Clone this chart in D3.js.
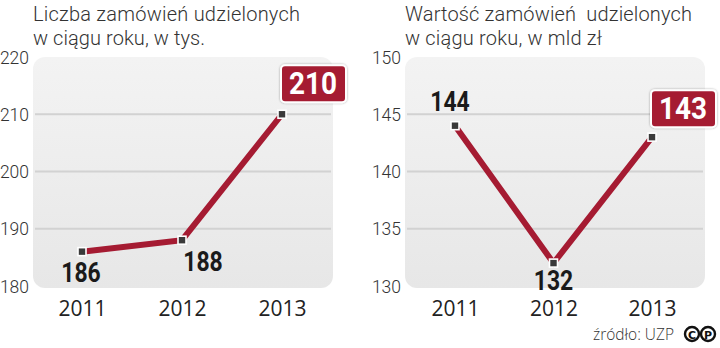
<!DOCTYPE html>
<html><head><meta charset="utf-8">
<script src="https://cdn.jsdelivr.net/npm/d3@7/dist/d3.min.js"></script>
<style>
html,body{margin:0;padding:0;background:#fff;}
svg{display:block;}
</style></head>
<body>
<svg id="c" width="720" height="348"></svg>
<script>
const years = ["2011","2012","2013"];
const ordersCount = [186, 188, 210];
const ordersValue = [144, 132, 143];
const ticksLeft = [180, 190, 200, 210, 220];
const ticksRight = [130, 135, 140, 145, 150];
const titleLeft = ["Liczba zamówień udzielonych", "w ciągu roku, w tys."];
const titleRight = ["Wartość zamówień  udzielonych", "w ciągu roku, w mld zł"];
const sourceText = "źródło: UZP";

const svg = d3.select("#c");
const defs = svg.append("defs");
const grad = defs.append("linearGradient").attr("id","bg").attr("x1",0).attr("y1",0).attr("x2",0).attr("y2",1);
grad.append("stop").attr("offset","0%").attr("stop-color","#f3f3f3");
grad.append("stop").attr("offset","100%").attr("stop-color","#e7e7e7");
const sh = defs.append("filter").attr("id","sh").attr("x","-20%").attr("y","-20%").attr("width","140%").attr("height","140%");
sh.append("feDropShadow").attr("dx",0).attr("dy",0).attr("stdDeviation",1.2).attr("flood-color","#000").attr("flood-opacity",0.35);

const RED = "#a51b32";
const lightFont = "Roboto, 'Open Sans', sans-serif";
const labelFont = "'Open Sans', Roboto, sans-serif";
const boldFont = "Roboto, 'Open Sans', sans-serif";

function boldText(g, x, y, size, sx, fill, txt) {
  g.append("text").attr("transform", `translate(${x},${y}) scale(${sx},1)`)
    .attr("text-anchor", "middle").attr("font-family", boldFont).attr("font-weight", 700)
    .attr("font-size", size).attr("fill", fill).text(txt);
}

function panel(cfg) {
  const g = svg.append("g");
  const y = d3.scaleLinear().domain(cfg.domain).range([286, 57]);
  const x = d3.scalePoint().domain(years).range(cfg.xr);
  g.append("rect").attr("x", cfg.bx).attr("y", 57).attr("width", 300).attr("height", 231)
    .attr("rx", 12).attr("fill", "url(#bg)");
  g.selectAll(".grid").data(cfg.ticks.slice(1, -1)).enter().append("line")
    .attr("x1", cfg.bx + 2).attr("x2", cfg.bx + 298)
    .attr("y1", d => y(d)).attr("y2", d => y(d))
    .attr("stroke", "#d2d2d2").attr("stroke-width", 2);
  const ax = d3.axisLeft(y).tickValues(cfg.ticks).tickSize(0).tickPadding(0);
  const axg = g.append("g").attr("transform", `translate(${cfg.bx - 4},0)`).call(ax);
  axg.select(".domain").remove();
  axg.selectAll("text").attr("font-family", lightFont).attr("font-weight", 300)
    .attr("font-size", 17.5).attr("fill", "#333").attr("dy", "0.35em");
  const xa = d3.axisBottom(x).tickSize(0).tickPadding(0);
  const xg = g.append("g").attr("transform", "translate(0,301)").call(xa);
  xg.select(".domain").remove();
  xg.selectAll("text").attr("font-family", labelFont).attr("font-weight", 400)
    .attr("font-size", 21).attr("fill", "#222").attr("dy", "0.71em");
  cfg.title.forEach((s, i) => g.append("text").attr("x", cfg.bx).attr("y", 21 + i * 24)
    .attr("font-family", lightFont).attr("font-weight", 300).attr("font-size", 20)
    .attr("textLength", cfg.titleW[i]).attr("lengthAdjust", "spacing")
    .attr("fill", "#333").style("white-space", "pre").text(s));
  const pts = cfg.values.map((v, i) => [x(years[i]), y(v)]);
  g.append("path").attr("d", d3.line()(pts)).attr("fill", "none")
    .attr("stroke", RED).attr("stroke-width", 6).attr("stroke-linejoin", "miter");
  g.selectAll(".mk").data(pts).enter().append("rect")
    .attr("x", d => d[0] - 4).attr("y", d => d[1] - 4).attr("width", 8).attr("height", 8)
    .attr("fill", "#3a3a3a").attr("stroke", "#fff").attr("stroke-width", 1.6);
  cfg.values.forEach((v, i) => {
    const lab = cfg.labels[i];
    const px = x(years[i]), py = y(v);
    if (lab.box) {
      const bx = px + lab.dx, by = py + lab.dy;
      g.append("rect").attr("x", bx - 32).attr("y", by - 18).attr("width", 65).attr("height", 37)
        .attr("rx", 4).attr("fill", RED).attr("stroke", "#fff").attr("stroke-width", 2).attr("filter", "url(#sh)");
      boldText(g, bx, by + 11, 31, 0.9, "#fff", v);
    } else {
      boldText(g, px + lab.dx, py + lab.dy, 28, 0.82, "#1a1a1a", v);
    }
  });
}

panel({
  bx: 33, domain: [180, 220], ticks: ticksLeft, xr: [82, 282], values: ordersCount, title: titleLeft,
  titleW: [267, 172],
  labels: [{dx: -1, dy: 30}, {dx: 21, dy: 31}, {box: true, dx: 31, dy: -31}]
});
panel({
  bx: 405, domain: [130, 150], ticks: ticksRight, xr: [455, 652], values: ordersValue, title: titleRight,
  titleW: [287, 197],
  labels: [{dx: -5, dy: -15}, {dx: 0, dy: 27}, {box: true, dx: 31, dy: -29}]
});

svg.append("text").attr("x", 674).attr("y", 340).attr("text-anchor", "end")
  .attr("font-family", labelFont).attr("font-weight", 300).attr("font-size", 15.5)
  .attr("fill", "#333").text(sourceText);
const cp = svg.append("g");
[["C", 692], ["P", 708]].forEach(([l, cx]) => {
  cp.append("circle").attr("cx", cx).attr("cy", 334).attr("r", 7).attr("fill", "none").attr("stroke", "#111").attr("stroke-width", 2.4);
  cp.append("text").attr("x", cx).attr("y", 338.5).attr("text-anchor", "middle")
    .attr("font-family", "'DejaVu Sans', sans-serif").attr("font-weight", 700).attr("font-size", 11).attr("fill", "#111").text(l);
});
</script>
</body></html>
